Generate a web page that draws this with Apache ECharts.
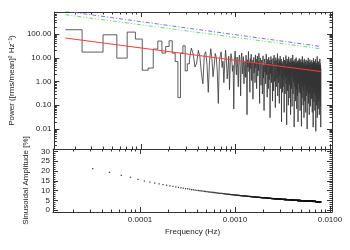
<!DOCTYPE html>
<html><head><meta charset="utf-8">
<script src="https://cdn.jsdelivr.net/npm/echarts@6/dist/echarts.min.js"></script>
<style>html,body{margin:0;padding:0;background:#fff}#c{width:350px;height:250px}</style>
</head><body><div id="c"></div>
<script>
// frequency resolution (Hz): bin k is at k*DF
const DF = 1.585e-5;

// power (rms/mean)^2 Hz^-1 for k = 1..505
const power = [
152,17.4,93,9.7,121,61.5,3.0,3.7,23.3,50.7,
15.8,30,52,15.8,7.0,0.21,15.8,32,2.8,5.6,
8.2,25.7,14.3,4.1,6.0,20.5,11.0,2.2,0.8,13.5,
18.0,5.2,0.35,7.6,24.0,9.1,1.6,4.4,15.2,10.3,
2.5,0.12,6.8,12.4,17.8,3.9,7.2,0.9,5.5,21.0,
8.4,1.3,3.3,11.6,0.45,6.1,14.9,9.8,2.7,4.8,
0.07,7.9,19.5,5.0,1.9,10.8,3.6,0.6,8.8,13.1,
4.3,0.25,9.6,16.0,2.1,6.4,11.2,0.8,3.1,7.5,
1.5,12.8,5.3,0.04,8.2,4.0,18.5,2.6,6.9,0.35,
9.2,3.5,14.1,1.1,5.8,7.7,0.18,4.6,10.4,2.3,
6.2,0.9,13.3,3.8,8.6,0.5,5.1,11.9,1.7,7.0,
2.9,15.6,4.4,0.12,6.6,9.9,2.0,0.7,5.4,8.1,
3.2,0.3,7.4,12.1,1.4,4.8,0.06,6.3,9.0,2.5,
5.6,0.8,3.9,14.2,1.9,6.8,0.22,4.1,8.7,2.8,
0.5,10.6,5.0,1.2,3.4,7.9,0.03,6.0,2.2,11.3,
4.5,0.9,8.3,1.6,5.3,0.15,3.0,9.5,6.6,0.4,
2.4,13.0,4.2,1.0,7.1,3.6,0.08,5.9,10.1,2.0,
0.6,4.7,8.0,1.3,3.3,15.0,0.25,6.1,2.7,5.2,
0.9,9.2,3.8,0.12,7.5,1.8,4.0,11.7,2.3,0.5,
6.4,3.1,8.8,0.02,4.9,1.5,7.0,2.6,0.35,5.7,
2.9,0.6,6.2,10.4,1.1,3.7,0.05,5.0,8.1,2.0,
4.4,0.3,7.3,1.4,3.2,12.5,0.8,5.5,2.5,0.015,
4.1,9.0,1.7,6.0,0.4,3.0,7.8,2.2,0.1,5.2,
11.0,1.0,3.5,0.7,6.6,2.7,4.6,0.2,8.5,1.9,
3.9,0.04,5.8,2.4,9.8,1.2,0.5,4.3,7.0,2.9,
0.09,3.6,6.4,1.5,13.2,2.1,0.3,5.1,3.3,0.9,
7.6,1.8,4.0,0.012,2.6,6.9,1.1,3.8,0.6,8.9,
2.3,4.8,0.15,3.1,5.7,1.3,10.2,0.45,2.8,4.5,
0.07,6.3,1.6,3.4,7.2,0.25,2.0,5.4,1.0,0.02,
4.2,8.0,2.5,0.8,3.7,6.1,1.4,0.35,9.4,2.9,
0.5,4.6,2.2,7.1,0.06,3.3,1.2,5.9,0.3,2.7,
8.6,1.7,0.9,4.1,0.013,3.0,6.5,1.4,2.4,0.2,
5.3,11.4,1.0,3.6,0.6,2.1,7.7,0.1,4.4,1.8,
3.2,0.4,6.0,2.6,0.03,4.9,1.3,9.1,0.7,3.5,
2.0,0.15,5.5,1.5,3.9,0.8,6.8,2.3,0.05,4.0,
1.1,2.8,8.2,0.5,3.4,1.9,0.25,5.1,2.5,0.9,
4.3,0.01,3.1,7.4,1.6,2.2,0.35,5.8,1.2,3.7,
0.6,10.0,2.0,0.12,4.7,1.4,3.0,0.8,6.2,2.6,
0.04,3.8,1.0,5.0,0.3,2.4,8.4,1.7,0.6,4.1,
2.9,0.09,3.5,6.7,1.3,0.45,2.1,5.6,0.18,3.2,
1.5,4.5,0.7,2.6,7.9,0.2,3.3,1.1,5.3,0.05,
2.3,4.0,0.9,6.4,1.8,0.3,3.6,2.0,0.012,4.8,
1.3,9.5,2.7,0.5,3.1,1.6,0.14,5.9,2.2,0.8,
4.2,1.0,7.0,0.35,2.9,1.4,0.06,3.7,5.1,0.6,
2.4,1.2,8.8,0.25,3.4,1.9,0.008,4.6,2.1,0.7,
6.1,1.5,3.0,0.1,2.5,5.5,0.9,1.7,4.1,0.4,
3.2,11.5,1.1,0.03,2.8,4.9,0.6,1.9,3.5,0.2,
7.3,2.3,1.0,0.07,4.4,1.6,2.6,0.5,6.6,3.1,
0.15,1.3,3.9,2.0,0.8,5.2,0.04,2.7,1.4,4.3,
0.3,3.4,9.0,1.2,0.6,2.2,5.8,0.09,3.0,1.7,
0.45,4.7,2.4,0.012,3.6
];

// sinusoidal amplitude upper limit [%] for k = 1..505 (k=1 not plotted)
const amplitude = [
null,21.2,19.3,17.8,16.8,15.7,14.9,14.3,13.8,13.4,
13.0,12.7,12.4,12.1,11.9,11.6,11.4,11.2,11.0,10.9,
10.7,10.5,10.4,10.2,10.1,10.0,9.9,9.8,9.7,9.6,
9.5,9.4,9.3,9.2,9.2,9.1,9.0,9.0,8.9,8.8,
8.8,8.7,8.6,8.6,8.5,8.5,8.4,8.4,8.3,8.3,
8.2,8.2,8.1,8.1,8.0,8.0,7.9,7.9,7.9,7.8,
7.8,7.8,7.7,7.7,7.6,7.6,7.6,7.5,7.5,7.5,
7.4,7.4,7.4,7.4,7.3,7.3,7.3,7.2,7.2,7.2,
7.2,7.1,7.1,7.1,7.1,7.0,7.0,7.0,7.0,7.0,
6.9,6.9,6.9,6.9,6.8,6.8,6.8,6.8,6.8,6.7,
6.7,6.7,6.7,6.7,6.6,6.6,6.6,6.6,6.6,6.6,
6.5,6.5,6.5,6.5,6.5,6.5,6.4,6.4,6.4,6.4,
6.4,6.4,6.3,6.3,6.3,6.3,6.3,6.3,6.3,6.2,
6.2,6.2,6.2,6.2,6.2,6.2,6.1,6.1,6.1,6.1,
6.1,6.1,6.1,6.1,6.0,6.0,6.0,6.0,6.0,6.0,
6.0,6.0,5.9,5.9,5.9,5.9,5.9,5.9,5.9,5.9,
5.9,5.9,5.8,5.8,5.8,5.8,5.8,5.8,5.8,5.8,
5.8,5.7,5.7,5.7,5.7,5.7,5.7,5.7,5.7,5.7,
5.7,5.7,5.6,5.6,5.6,5.6,5.6,5.6,5.6,5.6,
5.6,5.6,5.6,5.5,5.5,5.5,5.5,5.5,5.5,5.5,
5.5,5.5,5.5,5.5,5.5,5.5,5.4,5.4,5.4,5.4,
5.4,5.4,5.4,5.4,5.4,5.4,5.4,5.4,5.4,5.3,
5.3,5.3,5.3,5.3,5.3,5.3,5.3,5.3,5.3,5.3,
5.3,5.3,5.3,5.3,5.2,5.2,5.2,5.2,5.2,5.2,
5.2,5.2,5.2,5.2,5.2,5.2,5.2,5.2,5.2,5.2,
5.1,5.1,5.1,5.1,5.1,5.1,5.1,5.1,5.1,5.1,
5.1,5.1,5.1,5.1,5.1,5.1,5.1,5.0,5.0,5.0,
5.0,5.0,5.0,5.0,5.0,5.0,5.0,5.0,5.0,5.0,
5.0,5.0,5.0,5.0,5.0,5.0,4.9,4.9,4.9,4.9,
4.9,4.9,4.9,4.9,4.9,4.9,4.9,4.9,4.9,4.9,
4.9,4.9,4.9,4.9,4.9,4.9,4.9,4.8,4.8,4.8,
4.8,4.8,4.8,4.8,4.8,4.8,4.8,4.8,4.8,4.8,
4.8,4.8,4.8,4.8,4.8,4.8,4.8,4.8,4.8,4.7,
4.7,4.7,4.7,4.7,4.7,4.7,4.7,4.7,4.7,4.7,
4.7,4.7,4.7,4.7,4.7,4.7,4.7,4.7,4.7,4.7,
4.7,4.7,4.7,4.7,4.6,4.6,4.6,4.6,4.6,4.6,
4.6,4.6,4.6,4.6,4.6,4.6,4.6,4.6,4.6,4.6,
4.6,4.6,4.6,4.6,4.6,4.6,4.6,4.6,4.6,4.6,
4.6,4.6,4.5,4.5,4.5,4.5,4.5,4.5,4.5,4.5,
4.5,4.5,4.5,4.5,4.5,4.5,4.5,4.5,4.5,4.5,
4.5,4.5,4.5,4.5,4.5,4.5,4.5,4.5,4.5,4.5,
4.5,4.5,4.4,4.4,4.4,4.4,4.4,4.4,4.4,4.4,
4.4,4.4,4.4,4.4,4.4,4.4,4.4,4.4,4.4,4.4,
4.4,4.4,4.4,4.4,4.4,4.4,4.4,4.4,4.4,4.4,
4.4,4.4,4.4,4.4,4.4,4.3,4.3,4.3,4.3,4.3,
4.3,4.3,4.3,4.3,4.3,4.3,4.3,4.3,4.3,4.3,
4.3,4.3,4.3,4.3,4.3,4.3,4.3,4.3,4.3,4.3,
4.3,4.3,4.3,4.3,4.3,4.3,4.3,4.3,4.3,4.3,
4.3,4.3,4.2,4.2,4.2,4.2,4.2,4.2,4.2,4.2,
4.2,4.2,4.2,4.2,4.2,4.2,4.2,4.2,4.2,4.2,
4.2,4.2,4.2,4.2,4.2
];

// model power law and confidence levels, at first and last frequency
const modelFreq = [1.585e-5, 8.0e-3];
const redModel = [68, 2.64];
const conf99 = [916, 30];
const conf95 = [652, 24];

// tick labels
const xTickLabels = [1e-4, 1e-3, 1e-2];
const yTopTickLabels = [0.01, 0.1, 1, 10, 100];
const yBotTickLabels = [0, 5, 10, 15, 20, 25, 30];

const X_MIN = 1.21e-5, X_MAX = 0.0105;
const YT_MIN = 0.00144, YT_MAX = 850;
const YB_MIN = -1, YB_MAX = 31.3;

function logMinor(min, max) {
  const out = [];
  for (let e = Math.floor(Math.log10(min)); e <= Math.ceil(Math.log10(max)); e++) {
    for (let m = 2; m <= 9; m++) {
      const v = parseFloat((m * Math.pow(10, e)).toPrecision(6));
      if (v > min && v < max) out.push(v);
    }
  }
  return out;
}
function linMinor(min, max) {
  const out = [];
  for (let v = Math.ceil(min); v <= max; v++) if (v % 5 !== 0) out.push(v);
  return out;
}
const xMinor = logMinor(X_MIN, X_MAX);
const ytMinor = logMinor(YT_MIN, YT_MAX);
const ybMinor = linMinor(YB_MIN, YB_MAX);

const AX = '#333';
const FONT = 'Liberation Sans, Arial, sans-serif';

function axis(o) {
  return {
    type: o.log ? 'log' : 'value',
    logBase: 10,
    gridIndex: o.grid,
    position: o.pos,
    min: o.min, max: o.max,
    axisLine: { show: !!o.line, onZero: false, lineStyle: { color: AX, width: 1 } },
    axisTick: { show: true, inside: true, length: o.major ? 5 : 2.5, customValues: o.ticks,
                lineStyle: { color: AX, width: 1 } },
    axisLabel: o.labels ? { show: true, customValues: o.labels, formatter: o.fmt, fontSize: 8,
                color: '#222', fontFamily: FONT, margin: o.margin || 4 } : { show: false },
    splitLine: { show: false },
    name: o.name || '',
    nameLocation: 'middle',
    nameGap: o.nameGap || 0,
    nameTextStyle: { fontSize: 8, color: '#222', fontFamily: FONT },
    silent: true
  };
}

const xAxes = [];
const yAxes = [];
[0, 1].forEach(function (g) {
  const bottomLabels = g === 1;
  xAxes.push(axis({ log: true, grid: g, pos: 'bottom', min: X_MIN, max: X_MAX, line: true, major: true,
    ticks: xTickLabels, labels: bottomLabels ? xTickLabels : null, fmt: function (v) { return Number(v).toFixed(4); },
    name: bottomLabels ? 'Frequency (Hz)' : '', nameGap: 16 }));
  xAxes.push(axis({ log: true, grid: g, pos: 'bottom', min: X_MIN, max: X_MAX, ticks: xMinor }));
  xAxes.push(axis({ log: true, grid: g, pos: 'top', min: X_MIN, max: X_MAX, line: true, major: true, ticks: xTickLabels }));
  xAxes.push(axis({ log: true, grid: g, pos: 'top', min: X_MIN, max: X_MAX, ticks: xMinor }));
});
yAxes.push(axis({ log: true, grid: 0, pos: 'left', min: YT_MIN, max: YT_MAX, line: true, major: true,
  ticks: yTopTickLabels, labels: yTopTickLabels, fmt: function (v) { return Number(v).toFixed(2); }, margin: 3,
  name: 'Power ([rms/mean]\u00B2 Hz\u207B\u00B9)', nameGap: 30 }));
yAxes.push(axis({ log: true, grid: 0, pos: 'left', min: YT_MIN, max: YT_MAX, ticks: ytMinor }));
yAxes.push(axis({ log: true, grid: 0, pos: 'right', min: YT_MIN, max: YT_MAX, line: true, major: true, ticks: yTopTickLabels }));
yAxes.push(axis({ log: true, grid: 0, pos: 'right', min: YT_MIN, max: YT_MAX, ticks: ytMinor }));
yAxes.push(axis({ grid: 1, pos: 'left', min: YB_MIN, max: YB_MAX, line: true, major: true,
  ticks: yBotTickLabels, labels: yBotTickLabels, fmt: function (v) { return String(Math.round(v)); }, margin: 3,
  name: 'Sinusoidal Amplitude [%]', nameGap: 11 }));
yAxes.push(axis({ grid: 1, pos: 'left', min: YB_MIN, max: YB_MAX, ticks: ybMinor }));
yAxes.push(axis({ grid: 1, pos: 'right', min: YB_MIN, max: YB_MAX, line: true, major: true, ticks: yBotTickLabels }));
yAxes.push(axis({ grid: 1, pos: 'right', min: YB_MIN, max: YB_MAX, ticks: ybMinor }));

const N = power.length;
const stepData = [];
for (let i = 0; i < N; i++) {
  const k = i + 1;
  const left = (i === 0) ? k * DF : (k - 0.5) * DF;
  const right = (i === N - 1) ? k * DF : (k + 0.5) * DF;
  stepData.push([left, power[i]]);
  stepData.push([right, power[i]]);
}
const ampData = [];
for (let i = 0; i < amplitude.length; i++) {
  if (amplitude[i] != null) ampData.push([(i + 1) * DF, amplitude[i]]);
}
function pairs(xs, ys) { return xs.map(function (x, i) { return [x, ys[i]]; }); }

const chart = echarts.init(document.getElementById('c'), null, { renderer: 'canvas' });
chart.setOption({
  animation: false,
  backgroundColor: '#fff',
  textStyle: { fontFamily: FONT },
  grid: [
    { left: 53, right: 18, top: 12, height: 137 },
    { left: 53, right: 18, top: 149, height: 63 }
  ],
  xAxis: xAxes,
  yAxis: yAxes,
  series: [
    { type: 'line', xAxisIndex: 0, yAxisIndex: 0, data: stepData, symbol: 'none',
      lineStyle: { color: '#333', width: 0.8 }, clip: true, z: 2 },
    { type: 'line', xAxisIndex: 0, yAxisIndex: 0, data: pairs(modelFreq, redModel), symbol: 'none',
      lineStyle: { color: '#ff3a3a', width: 1 }, clip: true, z: 4 },
    { type: 'line', xAxisIndex: 0, yAxisIndex: 0, data: pairs(modelFreq, conf99), symbol: 'none',
      lineStyle: { color: '#7a6cff', width: 1, type: [4, 2, 1, 2] }, clip: true, z: 3 },
    { type: 'line', xAxisIndex: 0, yAxisIndex: 0, data: pairs(modelFreq, conf95), symbol: 'none',
      lineStyle: { color: '#5ee65e', width: 1, type: [4, 2, 1, 2, 1, 2] }, clip: true, z: 3 },
    { type: 'scatter', xAxisIndex: 4, yAxisIndex: 4, data: ampData, symbol: 'rect', symbolSize: 1.3,
      itemStyle: { color: '#111' }, clip: true, z: 2 }
  ]
});
</script>
</body></html>
